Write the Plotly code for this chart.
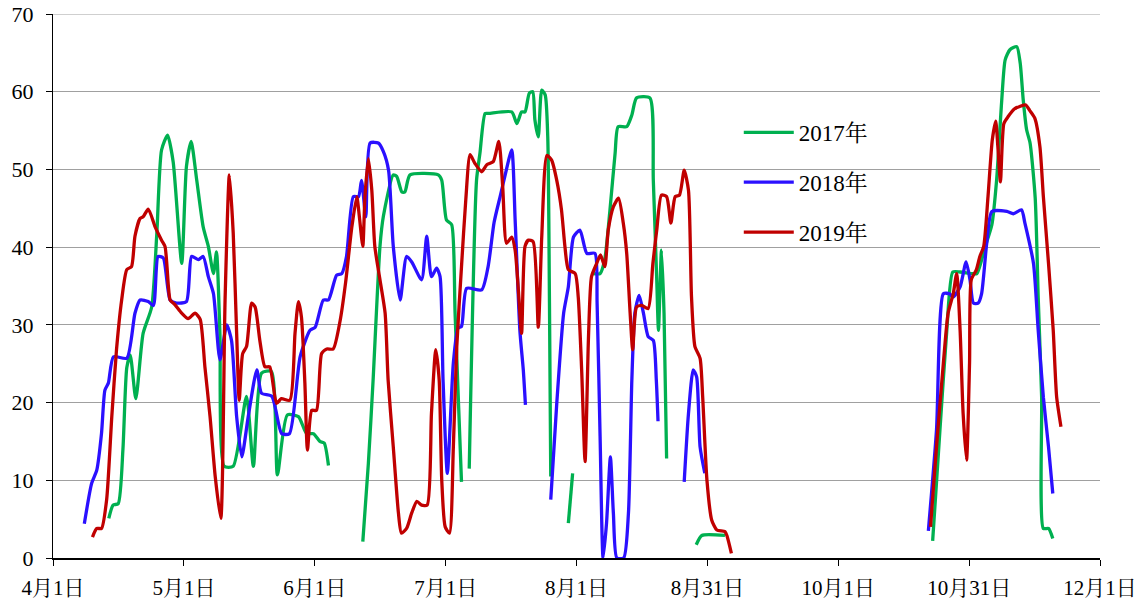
import plotly.graph_objects as go

# x = days since 4月1日
tick_days = [0, 30.5, 61, 91.5, 122, 152.5, 183, 213.5, 244]
tick_labels = ["4月1日", "5月1日", "6月1日", "7月1日", "8月1日", "8月31日", "10月1日", "10月31日", "12月1日"]

y2017_days = [13.0, 14.0, 15.2, 16.3, 17.2, 18.0, 19.3, 21.0, 23.0, 24.2, 25.3, 26.7, 28.0, 30.0, 31.1, 32.2, 33.5, 35.0,
              36.2, 37.4, 38.1, 38.9, 39.9, 42.0, 45.1, 46.7, 48.6, 50.9, 52.3, 54.6, 57.2, 59.1, 60.7, 62.2, 63.2, 64.2,
              68.0,
              72.2, 73.5, 74.6, 76.2, 77.0, 79.3, 80.1, 81.3, 82.0, 83.2, 89.8, 90.6, 91.7, 92.9, 93.7, 95.2,
              96.0,
              97.0, 98.7, 99.5, 100.7, 101.5, 106.9, 108.1, 109.2, 110.0, 111.0, 111.8, 112.3, 113.1, 113.9, 114.7, 115.3,
              115.7, 116.0,
              118.0,
              120.1, 121.1,
              123.0,
              125.9, 127.5, 128.6, 129.8, 131.0, 131.7, 133.7, 134.9, 136.0, 139.1, 139.9, 140.7, 141.1, 141.8, 142.4, 143.0,
              146.0,
              149.9, 151.2, 156.6,
              180.0,
              205.0, 206.7, 208.3, 209.7, 211.4, 214.1, 215.3, 217.2, 218.8, 219.9, 221.1, 221.9, 223.0, 224.6, 225.4,
              226.1, 226.9, 227.7, 228.9, 229.6, 230.4, 230.8, 232.0, 233.0]
y2017_vals = [5.1, 6.8, 7.0, 14.0, 24.5, 26.1, 20.5, 28.9, 32.3, 41.8, 52.5, 54.4, 51.0, 37.9, 50.4, 53.6, 48.6, 42.6,
              40.1, 36.6, 39.4, 28.9, 11.8, 11.8, 20.8, 11.8, 23.8, 24.0, 10.7, 18.4, 18.2, 16.0, 16.0, 15.0, 14.8, 11.9,
              None,
              2.1, 12.2, 22.9, 40.1, 44.0, 49.3, 49.1, 47.1, 47.1, 49.3, 49.3, 48.6, 43.5, 42.9, 31.5, 9.8,
              None,
              11.5, 48.6, 52.1, 57.2, 57.2, 57.4, 55.9, 57.4, 57.4, 59.8, 60.0, 56.4, 54.2, 60.2, 59.6, 54.2,
              32.8, 10.5,
              None,
              4.5, 10.9,
              None,
              36.6, 36.6, 38.5, 44.8, 52.1, 55.5, 55.5, 57.0, 59.2, 59.2, 48.6, 35.8, 29.3, 39.6, 31.5, 12.8,
              None,
              1.7, 2.9, 2.9,
              None,
              2.2, 16.5, 29.3, 36.8, 36.8, 36.6, 36.6, 40.0, 42.9, 48.6, 58.9, 64.1, 65.4, 65.8, 63.7,
              59.0, 55.1, 53.4, 46.3, 33.5, 20.7, 3.8, 3.8, 2.5]

y2018_days = [7.3, 9.0, 10.2, 11.3, 12.1, 12.9, 14.1, 17.2, 19.1, 20.3, 22.2, 23.4, 24.5, 25.7, 27.3, 28.8, 31.1, 32.3,
              33.9, 35.0, 36.2, 37.4, 38.9, 40.5, 41.6, 42.8, 44.0, 45.5, 47.5, 48.6, 51.0, 53.3, 55.1, 57.6, 59.9, 61.1,
              63.0, 64.2, 66.1, 67.3, 68.4, 70.0, 71.2, 71.9, 72.9, 73.9, 75.8, 77.0, 78.2, 79.3, 80.9, 82.4, 83.6, 85.9,
              87.1, 88.2, 89.4, 90.2, 90.9, 91.9, 93.3, 94.4, 95.2, 96.4, 99.9, 101.4, 102.8, 104.2, 105.3, 106.9, 107.7,
              108.8, 109.6, 110.1,
              113.0,
              116.0, 117.4, 119.0, 120.1, 121.3, 122.8, 124.4, 126.3, 126.8, 127.5, 128.2, 129.0, 129.9, 130.6, 131.4,
              133.0, 134.1, 134.9, 135.6, 136.6, 137.6, 138.7, 139.9, 140.6, 141.0,
              144.0,
              147.1, 148.1, 149.2, 150.0, 150.8, 151.9,
              180.0,
              204.0, 205.9, 207.5, 208.9, 209.8, 211.4, 212.8, 213.7, 214.5, 215.6, 216.4, 217.6, 218.8, 222.3, 223.8,
              225.7, 226.5, 228.5, 229.6, 230.8, 232.0, 233.0]
y2018_vals = [4.4, 9.6, 11.3, 16.0, 21.6, 22.5, 25.9, 25.7, 31.5, 33.2, 33.0, 32.5, 38.8, 38.6, 33.2, 32.8, 33.0, 38.8,
              38.4, 38.8, 36.2, 34.0, 25.5, 30.0, 28.0, 18.2, 13.0, 18.2, 24.2, 21.2, 20.8, 16.0, 16.0, 25.9, 29.3, 29.7,
              33.2, 33.2, 36.4, 36.6, 38.8, 46.5, 46.5, 48.6, 43.9, 53.4, 53.4, 52.3, 49.9, 40.1, 33.2, 38.8, 38.1, 35.8,
              41.4, 36.2, 37.3, 36.2, 22.9, 10.9, 25.1, 29.6, 29.8, 34.7, 34.5, 37.5, 43.2, 46.5, 49.1, 52.5, 43.5,
              29.3, 24.2, 19.7,
              None,
              7.5, 19.9, 31.5, 34.9, 41.3, 42.2, 39.2, 39.2, 32.8, 15.6, 0.0, 4.5, 13.0, 5.7, 0.0,
              0.0, 5.7, 22.9, 31.5, 33.8, 31.5, 28.5, 28.0, 22.9, 17.6,
              None,
              9.8, 18.6, 24.2, 23.3, 14.3, 10.9,
              None,
              3.5, 16.5, 34.0, 34.0, 33.6, 34.9, 38.1, 35.8, 32.8, 32.8, 34.0, 40.5, 44.6, 44.6, 44.3,
              44.8, 43.1, 37.9, 29.3, 20.7, 14.3, 8.3]

y2019_days = [9.2, 10.2, 11.3, 12.5, 13.7, 14.8, 16.0, 17.2, 18.3, 19.1, 20.3, 21.0, 22.2, 23.8, 25.3, 26.1, 26.9, 27.3,
              28.4, 30.0, 31.5, 33.1, 34.3, 35.4, 36.6, 37.8, 39.1, 40.1, 41.1, 42.0, 42.8, 43.4, 44.2, 45.1, 46.3, 47.1,
              48.2, 49.4, 50.5, 52.1, 53.2, 55.2, 56.4, 57.2, 57.9, 58.7, 59.3, 60.3, 61.4, 62.6, 63.8, 65.3, 66.9, 68.2,
              69.6, 70.8, 71.4, 72.2, 72.7, 73.5, 74.3, 75.0, 76.2, 77.4, 78.1, 79.3, 80.5, 81.2, 82.4, 83.6, 84.8, 85.9,
              87.2, 88.2, 89.2, 90.0, 90.6, 91.4, 92.4, 93.3, 94.1, 95.2, 96.2, 97.2, 98.3, 99.9, 101.1, 102.6, 103.9,
              104.8, 105.7, 106.9, 107.7, 108.4, 109.2, 110.0, 110.8, 111.9, 113.1, 113.9, 115.1, 116.2, 117.4, 118.5,
              119.3, 120.1, 121.7, 122.4, 123.2, 124.0, 124.8, 125.5, 126.7, 127.6, 128.6, 129.4, 130.6, 131.8, 132.9,
              133.7, 134.5, 135.1, 136.0, 137.2, 138.7, 139.8, 140.7, 141.8, 143.0, 144.0, 145.0, 146.0, 147.1, 148.1,
              148.8, 149.6, 150.8, 151.4, 152.4, 153.5, 154.7, 156.6, 157.1, 158.1,
              180.0,
              204.5, 205.9, 207.5, 208.6, 209.8, 210.6, 211.4, 212.1, 212.9, 213.6, 214.0, 215.2, 216.0, 216.9, 217.9,
              218.9, 219.7, 220.2, 220.8, 221.6, 222.6, 224.1, 225.3, 226.7, 227.6, 228.8, 230.0, 230.8, 232.0, 233.1,
              233.9, 234.9]
y2019_vals = [2.7, 3.8, 3.8, 7.5, 18.2, 26.8, 33.2, 37.1, 37.5, 41.4, 43.7, 43.9, 44.9, 42.6, 40.9, 40.1, 34.9, 33.2,
              32.6, 31.5, 30.8, 31.5, 30.7, 24.6, 18.2, 10.5, 5.1, 33.2, 49.3, 41.8, 28.9, 20.3, 26.3, 27.2, 32.8, 32.3,
              28.0, 24.6, 24.6, 19.9, 20.5, 20.3, 28.9, 33.0, 31.0, 22.5, 13.9, 19.0, 19.0, 26.3, 26.9, 26.9, 30.5, 35.5,
              42.4, 46.5, 43.9, 40.1, 46.5, 51.4, 47.3, 40.1, 35.8, 31.5, 22.9, 14.3, 5.8, 3.2, 3.8, 5.8, 7.3, 6.8,
              6.8, 18.6, 26.8, 22.9, 10.0, 4.0, 3.2, 14.3, 27.2, 37.5, 46.1, 51.9, 50.8, 49.7, 50.6, 51.0, 53.6,
              47.8, 40.5, 41.3, 39.6, 34.9, 28.9, 40.1, 40.9, 40.7, 29.7, 41.3, 51.8, 51.2, 48.6, 44.8,
              40.1, 37.1, 36.6, 33.6, 24.2, 12.4, 28.5, 36.2, 37.9, 39.0, 37.5, 42.2, 45.2, 46.3, 43.1,
              39.2, 31.5, 26.8, 32.3, 32.5, 32.1, 37.9, 42.2, 46.7, 46.5, 43.1, 46.5, 46.7, 49.9, 47.3,
              33.6, 27.2, 25.7, 20.8, 10.0, 4.9, 3.6, 3.4, 2.8, 0.6,
              None,
              4.0, 14.3, 25.1, 31.5, 34.0, 36.6, 29.3, 18.6, 12.6, 25.1, 35.8, 37.1, 38.8, 40.1, 46.5,
              53.8, 56.2, 52.9, 48.4, 55.9, 56.8, 57.8, 58.1, 58.3, 57.6, 56.6, 52.9, 46.5, 37.9, 29.3,
              20.7, 16.9]

series = [
    ("2017年", y2017_days, y2017_vals, "#00B050"),
    ("2018年", y2018_days, y2018_vals, "#2B10FF"),
    ("2019年", y2019_days, y2019_vals, "#C00000"),
]

SERIF = "Liberation Serif, Noto Serif CJK SC, Noto Sans CJK SC, serif"

fig = go.Figure()
for i, (name, xs, ys, color) in enumerate(series):
    fig.add_trace(go.Scatter(
        x=xs, y=ys, name=name, mode="lines",
        line=dict(color=color, width=3.3, shape="spline", smoothing=0.6),
        connectgaps=False, legendgroup=name,
    ))

fig.update_layout(
    width=1145, height=604,
    margin=dict(l=53, r=45, t=14, b=46, autoexpand=False),
    paper_bgcolor="white", plot_bgcolor="white",
    font=dict(family=SERIF, size=18, color="#000000"),
    showlegend=True,
    legend=dict(
        x=0.655, y=0.822, xanchor="left", yanchor="top",
        font=dict(family=SERIF, size=23, color="#000000"),
        bgcolor="rgba(255,255,255,0)",
        tracegroupgap=17, traceorder="grouped",
        itemwidth=50,
    ),
)
fig.update_xaxes(
    range=[0, 244], tickmode="array", tickvals=tick_days, ticktext=tick_labels,
    showgrid=False, zeroline=False,
    showline=True, linecolor="#000000", linewidth=1.5,
    ticks="outside", ticklen=6, tickcolor="#000000", tickwidth=1,
    tickfont=dict(family=SERIF, size=21),
    ticklabelstandoff=4, ticklabeloverflow="allow",
)
fig.update_yaxes(
    range=[0, 70], dtick=10, tick0=0,
    showgrid=True, gridcolor="#A0A0A0", gridwidth=1,
    zeroline=False,
    showline=True, linecolor="#000000", linewidth=1,
    ticks="outside", ticklen=6, tickcolor="#000000", tickwidth=1,
    tickfont=dict(family=SERIF, size=22),
    ticklabelstandoff=8, ticklabeloverflow="allow",
)
# grid line along the top edge (value 70), drawn on the y scale
fig.add_hline(y=70, line=dict(color="#A0A0A0", width=1), layer="below")

# remove the default page margin so the figure starts at the window corner
fig.write_html("out.html", config={"displayModeBar": False},
               post_script="document.body.style.margin='0px';")
